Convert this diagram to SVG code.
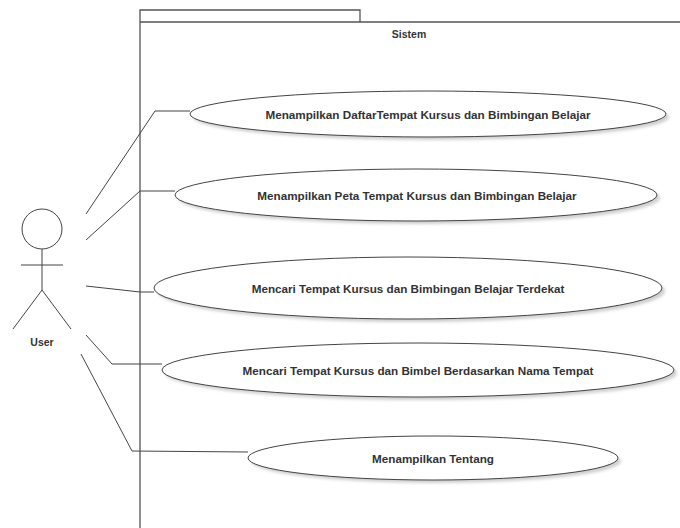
<svg xmlns="http://www.w3.org/2000/svg" width="680" height="528" viewBox="0 0 680 528">
  <defs>
    <filter id="soft" x="-10%" y="-30%" width="120%" height="160%">
      <feGaussianBlur stdDeviation="1.5"/>
    </filter>
    <style>
      .frame { fill: none; stroke: #555; stroke-width: 1.3; }
      .uc { fill: #fff; stroke: #444; stroke-width: 1; }
      .shadow { fill: #cfcfcf; filter: url(#soft); }
      .line { fill: none; stroke: #444; stroke-width: 1; }
      .lbl { font-family: "Liberation Sans", Arial, sans-serif; font-size: 11.7px; font-weight: bold; fill: #333; text-anchor: middle; }
      .small { font-size: 10.5px; }
    </style>
  </defs>
  <rect width="680" height="528" fill="#fff"/>

  <!-- system boundary -->
  <g id="system">
    <path class="frame" d="M140,528 V10 H360 V22"/>
    <path class="frame" d="M140,22 H680"/>
    <text class="lbl small" x="409" y="38">Sistem</text>
  </g>

  <!-- actor -->
  <g id="actor-user">
    <circle class="line" cx="42" cy="229" r="20"/>
    <path class="line" d="M42,249 V290 M21,265 H63 M42,290 L13,329 M42,290 L71,329"/>
    <text class="lbl small" x="42" y="346">User</text>
  </g>

  <!-- associations -->
  <g id="connectors">
    <polyline class="line" points="86,214 155,111 190,111"/>
    <polyline class="line" points="86,240 140,191 175,191"/>
    <polyline class="line" points="86,286 140,292 154,292"/>
    <polyline class="line" points="86,335 112,364 162,364"/>
    <polyline class="line" points="81,354 132,451 248,452"/>
  </g>

  <!-- use cases -->
  <g id="uc1">
    <ellipse class="shadow" cx="431" cy="117" rx="238" ry="23"/>
    <ellipse class="uc" cx="428" cy="114" rx="238" ry="23"/>
    <text class="lbl" x="428" y="119">Menampilkan DaftarTempat Kursus dan Bimbingan Belajar</text>
  </g>
  <g id="uc2">
    <ellipse class="shadow" cx="419" cy="198" rx="241" ry="26"/>
    <ellipse class="uc" cx="416" cy="195" rx="241" ry="26"/>
    <text class="lbl" x="417" y="200">Menampilkan Peta Tempat Kursus dan Bimbingan Belajar</text>
  </g>
  <g id="uc3">
    <ellipse class="shadow" cx="411" cy="291" rx="254" ry="31"/>
    <ellipse class="uc" cx="408" cy="288" rx="254" ry="31"/>
    <text class="lbl" x="408" y="293">Mencari Tempat Kursus dan Bimbingan Belajar Terdekat</text>
  </g>
  <g id="uc4">
    <ellipse class="shadow" cx="421" cy="373" rx="256" ry="27"/>
    <ellipse class="uc" cx="418" cy="370" rx="256" ry="27"/>
    <text class="lbl" x="418" y="375">Mencari Tempat Kursus dan Bimbel Berdasarkan Nama Tempat</text>
  </g>
  <g id="uc5">
    <ellipse class="shadow" cx="436" cy="461" rx="185" ry="22"/>
    <ellipse class="uc" cx="433" cy="458" rx="185" ry="22"/>
    <text class="lbl" x="433" y="463">Menampilkan Tentang</text>
  </g>
</svg>
